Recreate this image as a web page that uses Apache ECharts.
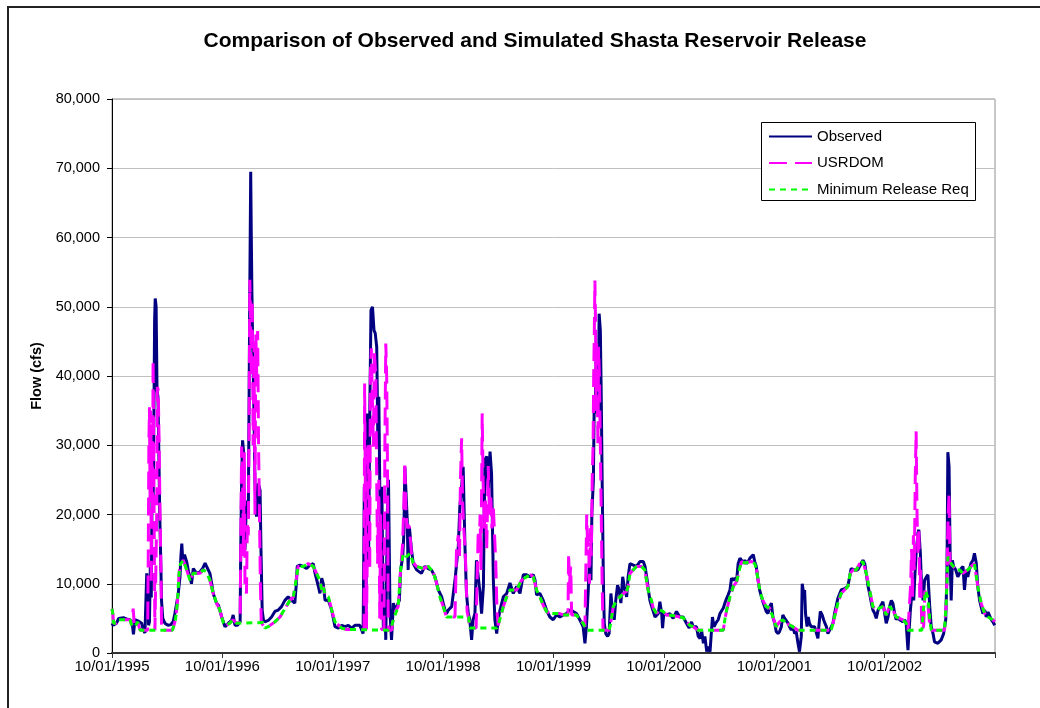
<!DOCTYPE html>
<html>
<head>
<meta charset="utf-8">
<script src="https://cdn.jsdelivr.net/npm/echarts@6/dist/echarts.min.js"></script>
<style>html,body{margin:0;padding:0;background:#fff;}#c{width:1040px;height:708px;}</style>
</head>
<body>
<div id="c"></div>
<script>
// x values are days since 10/01/1995
const tickLabels = ['10/01/1995','10/01/1996','10/01/1997','10/01/1998','10/01/1999','10/01/2000','10/01/2001','10/01/2002'];
const seriesNames = ['Observed','USRDOM','Minimum Release Req'];

const observed = [
[0,4300],[4,4000],[15,4300],[22,5000],[38,5100],[48,4900],[59,4800],[66,4600],[71,2700],[76,4800],[88,4600],[98,4300],[104,3300],[109,2900],[112,2800],[115,11500],[118,9500],[121,4000],[124,4500],[127,13000],[130,8000],[133,26000],[136,21000],[139,36000],[141,48000],[143,51200],[146,50000],[149,38000],[152,37000],[155,29000],[158,20000],[161,14000],[164,7500],[168,5000],[175,4300],[185,4000],[195,4100],[203,4600],[208,5700],[214,7200],[219,8500],[225,11000],[228,14000],[231,15800],[234,13500],[240,14200],[247,13200],[253,11800],[258,11000],[263,10000],[269,12200],[280,11500],[291,11700],[300,12200],[308,13000],[313,12500],[319,12700],[324,11500],[330,10000],[335,8600],[346,7200],[352,6900],[358,6000],[363,5200],
[374,3800],[385,4300],[396,4700],[401,5500],[407,4000],[415,4000],[421,3800],[424,4500],[426,15000],[429,25000],[432,30700],[435,29300],[440,14900],[445,22000],[451,19700],[454,39000],[456,52400],[459,69500],[461,60000],[463,52000],[465,46200],[470,34100],[473,24500],[478,19700],[484,24500],[490,23500],[493,14900],[497,6200],[501,4800],[506,4500],[517,4700],[528,5200],[539,6000],[550,6200],[561,6700],[572,7600],[583,8100],[594,7600],[605,7200],[610,10000],[613,12500],[622,12700],[633,12500],[644,12200],[655,12700],[666,12900],[672,11500],[677,11500],[683,9600],[688,8600],[694,10800],[699,10000],[705,7600],[716,7600],[727,6200],
[738,3800],[749,3600],[760,4000],[771,3800],[782,4000],[793,3600],[804,4000],[820,4000],[831,2800],[835,24000],[840,3600],[845,34600],[849,12500],[853,34600],[857,49500],[862,50000],[867,46600],[871,46200],[876,44200],[880,29800],[883,37000],[887,20200],[890,5700],[893,24000],[898,3300],[903,7600],[906,1900],[911,20200],[915,25000],[920,5700],[925,1900],[931,7200],[936,6200],[944,6900],[951,7600],[955,12000],[962,13900],[966,17300],[969,26900],[973,26900],[977,19200],[980,12000],[984,18200],[991,14900],[997,12900],[1008,12000],[1024,11500],[1035,12500],[1046,12200],[1057,12000],[1069,11000],[1080,9100],[1091,8100],
[1096,7200],[1102,6200],[1107,5700],[1113,6200],[1124,6700],[1135,10500],[1146,15400],[1151,21100],[1157,24000],[1162,26900],[1168,15400],[1173,8600],[1179,5700],[1184,4800],[1190,1900],[1195,4800],[1201,5700],[1206,13400],[1212,13200],[1218,8600],[1223,5700],[1229,9600],[1234,27900],[1240,28400],[1245,23500],[1251,29100],[1256,25900],[1262,10500],[1267,4800],[1273,2800],[1278,4800],[1284,6200],[1295,8100],[1306,8600],[1317,10100],[1328,8600],[1339,9600],[1350,8600],[1361,11300],[1372,11300],[1383,11000],[1394,11300],[1400,10500],[1405,8400],[1416,8600],[1427,7600],[1438,6200],[1449,5200],[1460,4800],
[1471,5500],[1482,5200],[1493,5500],[1504,5700],[1515,6200],[1526,6000],[1537,5700],[1548,4800],[1559,3800],[1565,1400],[1570,3800],[1576,9100],[1581,14400],[1585,10500],[1588,20200],[1593,25000],[1596,37000],[1599,34600],[1602,42800],[1606,39400],[1609,34600],[1612,49000],[1616,46600],[1619,37000],[1622,25000],[1626,10500],[1629,4300],[1634,2800],[1640,2400],[1645,2800],[1651,8600],[1656,6200],[1662,4800],[1667,7600],[1673,9800],[1678,9100],[1684,7200],[1690,11000],[1695,9600],[1703,8100],[1708,11000],[1714,12900],[1725,12700],[1736,12500],[1747,13200],[1758,13200],[1764,12500],[1771,10500],[1775,9100],[1780,7600],[1786,6700],[1791,6500],[1797,5200],[1802,5200],[1808,5700],[1813,7400],[1819,5700],[1822,3600],[1826,5700],
[1835,5500],[1846,5700],[1857,5000],[1868,6000],[1879,5200],[1890,5200],[1901,4300],[1910,3600],[1918,4500],[1923,3800],[1934,3800],[1940,2400],[1946,2100],[1951,3300],[1957,1400],[1962,2400],[1968,200],[1973,900],[1979,200],[1984,200],[1987,5200],[1992,3800],[1998,4300],[2006,4800],[2012,5700],[2017,5500],[2023,6500],[2028,7200],[2034,7900],[2039,8400],[2045,9100],[2050,10800],[2056,10500],[2061,10800],[2067,10500],[2072,12900],[2078,13700],[2083,13400],[2089,12900],[2094,13400],[2100,12900],[2105,13200],[2111,13700],[2122,14200],[2127,13200],[2132,12500],[2138,10500],[2143,9100],[2149,8100],[2154,7400],[2160,7200],[2165,6000],[2171,5700],[2176,6700],[2182,7200],[2187,5200],[2193,4300],
[2198,3100],[2204,2800],[2209,3100],[2215,3800],[2220,5500],[2226,5000],[2231,4800],[2237,4300],[2242,3800],[2248,3300],[2253,3800],[2259,2800],[2264,3100],[2270,1400],[2275,200],[2281,2400],[2284,10000],[2289,8600],[2292,9100],[2295,5700],[2300,3800],[2304,5200],[2308,4300],[2314,3800],[2320,3800],[2325,3800],[2331,3800],[2336,2100],[2339,3800],[2344,6000],[2350,5500],[2355,4800],[2359,4300],[2364,3800],[2369,2800],[2375,3300],[2380,3300],[2386,4300],[2391,5700],[2397,6900],[2402,7900],[2408,7900],[2413,9100],[2419,9300],[2424,9300],[2430,9100],[2435,9600],[2441,11000],[2446,12200],[2452,12200],[2457,12000],[2463,12000],[2468,12000],[2474,12200],[2485,13400],[2491,12900],[2496,11500],[2502,9600],[2507,8600],[2513,7200],[2518,6200],[2524,5700],[2529,5000],[2535,6200],[2540,6500],[2546,6700],[2551,7400],[2557,5700],
[2562,4300],[2568,5200],[2573,6700],[2579,7600],[2584,7200],[2590,5700],[2595,4800],[2601,5200],[2606,4800],[2612,5000],[2617,4500],[2623,4800],[2628,4300],[2634,400],[2637,2800],[2642,6200],[2645,7600],[2648,9600],[2653,7600],[2656,10500],[2661,14400],[2667,17300],[2670,17800],[2675,14400],[2679,9600],[2684,7600],[2689,10500],[2695,11000],[2700,11300],[2706,6700],[2711,3800],[2717,2800],[2722,1600],[2733,1400],[2744,1900],[2752,2800],[2759,4800],[2763,11500],[2766,29000],[2770,26900],[2774,12500],[2777,7600],[2781,13400],[2785,12500],[2792,12000],[2799,11000],[2805,11500],[2810,12200],[2816,12500],[2821,9100],[2827,12000],[2832,11000],[2838,12200],[2843,13000],[2849,13400],[2854,14400],[2860,13000],[2865,9600],[2871,7600],[2876,6700],[2882,5700],[2888,6200],[2893,5200],[2899,5900],[2904,5700],[2910,4800],[2915,4500],[2921,4000]
];

const usrdom = [
[0,6400],[3,5600],[5,4300],[15,4300],[22,4800],[60,4800],[65,4000],[70,6400],[74,4000],[76,3800],[85,4500],[90,4300],[93,3300],[118,3300],[120,14000],[122,30000],[124,35500],[126,22000],[128,35000],[130,10000],[132,30000],[134,20000],[136,42300],[138,30000],[140,15000],[142,3300],[146,3300],[148,20000],[150,38400],[153,38000],[156,30000],[159,20000],[162,12000],[164,3300],[200,3300],[205,4000],[210,4800],[216,7000],[222,11500],[226,12800],[236,13400],[247,12000],[258,10500],[269,11500],[291,11500],[302,12000],[313,11700],[324,10500],[335,8600],[346,7200],[357,6200],[363,5200],[369,4300],[379,4000],[390,4300],[401,4800],[412,4300],[418,4400],
[424,4400],[427,20000],[429,29800],[432,26000],[435,14000],[438,29000],[440,10000],[445,8600],[448,19000],[451,17000],[454,35000],[456,53900],[458,50000],[461,40000],[464,51000],[467,30000],[470,45000],[473,20000],[476,46000],[479,40000],[482,46500],[485,30000],[488,20000],[491,10000],[494,4400],[500,4400],[506,3600],[517,3800],[539,4500],[556,5200],[572,6400],[589,7600],[600,8100],[611,11000],[616,12500],[633,12500],[649,12900],[666,12500],[677,11500],[688,10500],[694,9100],[699,9600],[705,8400],[716,8100],[727,6200],[738,4500],[760,3600],[776,3400],
[834,3400],[836,38900],[839,20000],[842,3400],[845,15000],[847,30000],[850,25000],[853,12000],[855,40000],[858,44000],[861,38000],[865,29800],[868,43700],[873,40000],[876,25000],[879,12900],[883,25000],[886,5000],[889,20000],[892,3400],[900,3400],[903,30000],[906,44700],[909,40000],[912,25000],[914,3300],[925,3300],[931,5000],[940,6200],[947,6700],[955,12000],[962,16000],[966,22000],[969,27600],[973,20000],[977,18000],[980,18500],[984,18200],[988,16000],[991,14400],[1000,12900],[1008,12500],[1030,12200],[1047,12500],[1063,11700],[1074,10100],[1085,8100],[1096,6700],[1107,5200],[1135,5200],
[1140,15000],[1146,17000],[1150,14000],[1153,25000],[1157,31000],[1160,22000],[1164,18000],[1168,15500],[1171,12000],[1175,6000],[1179,5200],[1184,3600],[1205,3600],[1208,10000],[1212,17700],[1215,14000],[1218,20000],[1221,12000],[1225,34600],[1228,25000],[1232,18000],[1236,22000],[1240,15000],[1245,27000],[1249,20000],[1253,23000],[1257,18000],[1262,21000],[1267,21000],[1270,13000],[1274,6000],[1278,4000],[1284,3800],[1295,6700],[1306,8100],[1317,9100],[1339,9100],[1355,10500],[1372,11000],[1385,11300],[1394,11000],[1405,9100],[1416,8100],[1427,6900],[1438,6000],[1449,5700],[1482,5700],[1493,5500],[1509,5500],
[1511,14400],[1514,10000],[1518,12500],[1521,5500],[1537,5500],[1548,4800],[1559,4300],[1565,3800],[1568,12000],[1571,20000],[1574,15000],[1577,17000],[1580,10000],[1583,18000],[1586,14000],[1589,25000],[1592,30000],[1594,40000],[1596,46000],[1598,53800],[1600,48000],[1602,35000],[1604,45000],[1606,38000],[1608,30000],[1610,44200],[1613,40000],[1616,30000],[1619,20000],[1622,10000],[1625,3300],[1645,3300],[1648,3800],[1659,6700],[1670,7600],[1681,8100],[1692,8600],[1703,8900],[1708,9600],[1714,11500],[1725,12000],[1736,12500],[1752,12500],[1763,12000],[1774,9100],[1785,7600],[1791,6500],[1802,5700],[1813,6200],[1824,6000],
[1835,5500],[1857,5400],[1879,5200],[1890,5100],[1901,4500],[1912,4000],[1923,3800],[1940,3300],[2023,3300],[2028,4800],[2034,6200],[2045,8100],[2056,9600],[2067,10300],[2076,12000],[2083,13200],[2094,13000],[2116,13200],[2127,12900],[2133,12000],[2138,10500],[2146,8600],[2154,7600],[2165,6700],[2176,6500],[2187,5200],
[2198,3800],[2209,4500],[2220,4800],[2231,4300],[2253,3800],[2270,3300],[2380,3300],[2391,5200],[2402,7200],[2413,8600],[2424,9100],[2435,9600],[2443,11500],[2452,12000],[2463,12000],[2474,12900],[2485,13200],[2496,11500],[2507,9100],[2518,6700],[2529,6200],[2540,6500],[2551,6700],
[2562,5500],[2573,6700],[2584,6200],[2595,5200],[2606,5000],[2617,4800],[2628,4300],[2634,3300],[2640,3300],[2643,10000],[2646,15000],[2649,8000],[2652,17000],[2655,12000],[2658,25000],[2661,32000],[2664,20000],[2667,14000],[2670,18000],[2673,8000],[2676,12000],[2679,5000],[2682,3300],[2686,4000],[2690,9000],[2695,8000],[2700,7000],[2706,4000],[2711,3300],[2755,3300],[2761,7600],[2764,14000],[2767,20000],[2770,23000],[2773,13000],[2777,12900],[2794,12000],[2805,12000],[2816,11500],[2832,12000],[2843,12500],[2854,12900],[2865,9600],[2876,7200],[2888,5700],[2899,5200],[2915,4800],[2921,4500]
];

const minRelease = [
[0,6400],[3,5600],[5,4300],[15,4300],[22,4800],[60,4800],[65,4000],[76,3800],[85,4500],[90,4300],[93,3300],[200,3300],[205,4000],[210,4800],[216,7000],[222,11500],[226,12800],[236,13400],[247,12000],[258,10500],[269,11500],[291,11500],[302,12000],[313,11700],[324,10500],[335,8600],[346,7200],[357,6200],[363,5200],[369,4300],[379,4000],[390,4300],[401,4800],[412,4300],[418,4400],[500,4400],[506,3600],[517,3800],[539,4500],[556,5200],[572,6400],[589,7600],[600,8100],[611,11000],[616,12500],[633,12500],[649,12900],[666,12500],[677,11500],[688,10500],[694,9100],[699,9600],[705,8400],[716,8100],[727,6200],[738,4500],[760,3600],[776,3400],[914,3300],[925,3800],[931,4800],[947,6700],[955,12000],[964,14400],[975,13900],[986,14400],[997,13000],[1008,12500],[1030,12200],[1047,12500],[1063,11700],[1074,10100],[1085,8100],[1096,6700],[1107,5200],[1180,5200],[1184,3600],[1273,3600],[1278,4000],[1284,3800],[1295,6700],[1306,8100],[1317,9100],[1339,9100],[1355,10500],[1372,11000],[1385,11300],[1394,11000],[1405,9100],[1416,8100],[1427,6900],[1438,6000],[1449,5700],[1482,5700],[1493,5500],[1537,5500],[1548,4800],[1559,4300],[1565,3800],[1570,3300],[1645,3300],[1648,3800],[1659,6700],[1670,7600],[1681,8100],[1692,8600],[1703,8900],[1708,9600],[1714,11500],[1725,12000],[1736,12500],[1752,12500],[1763,12000],[1774,9100],[1785,7600],[1791,6500],[1802,5700],[1813,6200],[1824,6000],[1835,5500],[1857,5400],[1879,5200],[1890,5100],[1901,4500],[1912,4000],[1923,3800],[1940,3300],[2023,3300],[2028,4800],[2034,6200],[2045,8100],[2056,9600],[2067,10300],[2076,12000],[2083,13200],[2094,13000],[2116,13200],[2127,12900],[2133,12000],[2138,10500],[2146,8600],[2154,7600],[2165,6700],[2176,6500],[2187,5200],[2198,3800],[2209,4500],[2220,4800],[2231,4300],[2253,3800],[2270,3300],[2380,3300],[2391,5200],[2402,7200],[2413,8600],[2424,9100],[2435,9600],[2443,11500],[2452,12000],[2463,12000],[2474,12900],[2485,13200],[2496,11500],[2507,9100],[2518,6700],[2529,6200],[2540,6500],[2551,6700],[2562,5500],[2573,6700],[2584,6200],[2595,5200],[2606,5000],[2617,4800],[2628,4300],[2634,3300],[2680,3300],[2684,5700],[2692,9000],[2700,8000],[2706,5000],[2711,3300],[2755,3300],[2761,7600],[2766,13900],[2777,12900],[2794,12000],[2805,12000],[2816,11500],[2832,12000],[2843,12500],[2854,12900],[2865,9600],[2876,7200],[2888,5700],[2899,5200],[2915,4800],[2921,4500]
];

const FONT = '"Liberation Sans", Arial, sans-serif';
const chart = echarts.init(document.getElementById('c'), null, {renderer: 'canvas'});
const baseLine = {type: 'line', showSymbol: false, symbol: 'none', animation: false, silent: true, clip: true, smooth: false, sampling: null};

chart.setOption({
  backgroundColor: '#ffffff',
  animation: false,
  title: {
    text: 'Comparison of Observed and Simulated Shasta Reservoir Release',
    left: 530, top: 26, textAlign: 'center',
    textStyle: {fontFamily: FONT, fontSize: 21, fontWeight: 'bold', color: '#000'}
  },
  graphic: [
    {type: 'rect', z: 0, shape: {x: 8, y: 7, width: 1200, height: 900}, style: {fill: 'none', stroke: '#222', lineWidth: 2}},
    {type: 'rect', z: 3, shape: {x: 761.5, y: 122.5, width: 214, height: 78}, style: {fill: '#fff', stroke: '#000', lineWidth: 1}}
  ],
  legend: {
    orient: 'vertical', left: 768, top: 129, padding: 0, z: 5,
    itemWidth: 43, itemHeight: 14, itemGap: 11.5,
    itemStyle: {opacity: 0},
    textStyle: {fontFamily: FONT, fontSize: 15, color: '#000'},
    data: seriesNames
  },
  grid: {left: 112, right: 45, top: 99, bottom: 55, show: true, borderColor: '#909090', borderWidth: 1, backgroundColor: 'transparent'},
  xAxis: {
    type: 'value', min: 0, max: 2922, interval: 365.25,
    axisLine: {show: true, onZero: false, lineStyle: {color: '#333', width: 2}},
    axisTick: {show: true, inside: false, length: 5, lineStyle: {color: '#333', width: 1}},
    splitLine: {show: false},
    axisLabel: {
      show: true, margin: 6, color: '#000', fontFamily: FONT, fontSize: 15,
      showMinLabel: true, showMaxLabel: true,
      formatter: function (v) { const i = Math.round(v / 365.25); return tickLabels[i] || ''; }
    }
  },
  yAxis: {
    type: 'value', min: 0, max: 80000, interval: 10000,
    name: 'Flow (cfs)', nameLocation: 'middle', nameGap: 68, nameRotate: 90,
    nameTextStyle: {fontFamily: FONT, fontSize: 14.5, fontWeight: 'bold', color: '#000'},
    axisLine: {show: true, lineStyle: {color: '#000', width: 1}},
    axisTick: {show: true, inside: false, length: 5, lineStyle: {color: '#000'}},
    splitLine: {show: true, lineStyle: {color: '#c0c0c0', width: 1}},
    axisLabel: {
      margin: 12, color: '#000', fontFamily: FONT, fontSize: 14.5,
      formatter: function (v) { return v.toLocaleString('en-US'); }
    }
  },
  series: [
    Object.assign({}, baseLine, {name: seriesNames[0], z: 2, data: observed,
      lineStyle: {color: '#000080', width: 3, type: 'solid'}, itemStyle: {color: '#000080'}}),
    Object.assign({}, baseLine, {name: seriesNames[1], z: 2, data: usrdom,
      lineStyle: {color: '#ff00ff', width: 3, type: [18, 8]}, itemStyle: {color: '#ff00ff'}}),
    Object.assign({}, baseLine, {name: seriesNames[2], z: 2, data: minRelease,
      lineStyle: {color: '#00ff00', width: 3, type: [6, 5]}, itemStyle: {color: '#00ff00'}})
  ]
});
</script>
</body>
</html>
